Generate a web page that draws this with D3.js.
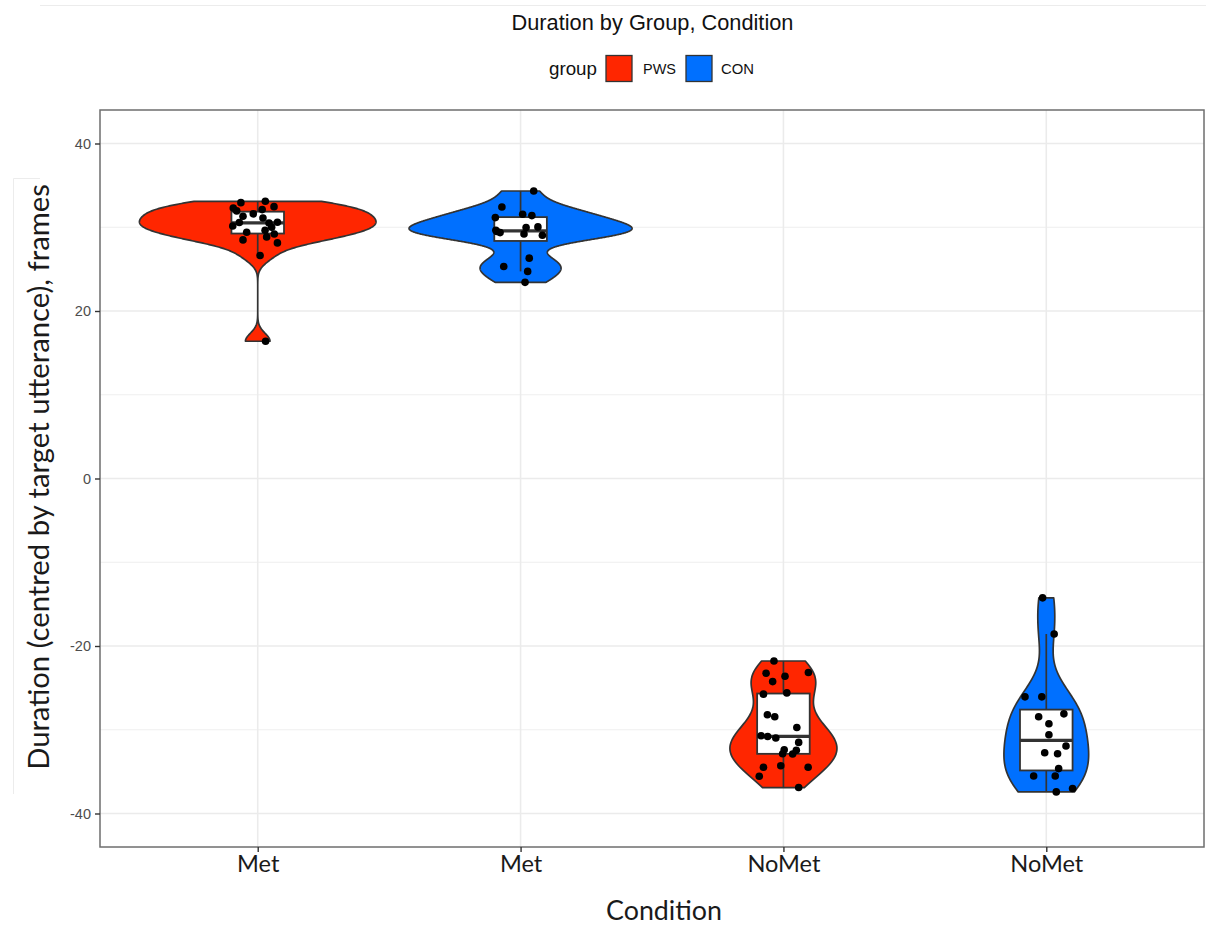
<!DOCTYPE html>
<html>
<head>
<meta charset="utf-8">
<script src="https://cdn.jsdelivr.net/npm/d3@7"></script>
<style>
  body { margin: 0; background: #fff; }
  svg { display: block; }
</style>
</head>
<body>
<svg id="chart" width="1206" height="925"></svg>
<script>
// ---- data -------------------------------------------------------------
const groupNames = ["PWS", "CON"];
const groupColors = ["#FF2600", "#0070FF"];
const conditionLabels = ["Met", "Met", "NoMet", "NoMet"];
const cellGroups = ["PWS", "CON", "PWS", "CON"];
const yTickValues = [-40, -20, 0, 20, 40];
const yMinorValues = [-30, -10, 10, 30];

// Duration (frames, centred by target utterance) per participant
const pwsMet = [32.94, 33.10, 32.46, 32.30, 31.95, 32.11, 31.60, 31.31, 31.11, 30.56, 30.15,
                30.60, 30.50, 30.00, 29.64, 29.40, 29.20, 28.85, 28.49, 28.13, 26.63, 16.39];
const conMet = [34.33, 32.42, 31.55, 31.39, 31.15, 29.96, 30.04, 29.64, 29.36, 29.05, 29.50,
                29.20, 26.31, 25.32, 24.73, 23.42];
const pwsNoMet = [-21.79, -23.25, -23.17, -23.61, -24.25, -25.75, -25.60, -28.21, -28.45, -29.73,
                  -30.71, -30.80, -30.99, -31.51, -32.38, -32.86, -32.46, -32.89, -34.29, -34.48,
                  -34.48, -35.56, -36.90];
const conNoMet = [-14.25, -18.57, -26.07, -26.07, -28.10, -28.45, -29.29, -30.60, -31.94, -32.74,
                  -32.86, -34.64, -35.52, -35.52, -37.02, -37.42];

// horizontal jitter of each dot, in units of the category spacing
const pwsMetJitter = [-0.064, 0.029, 0.062, -0.093, -0.080, 0.017, -0.017, -0.056, 0.020, -0.070, -0.095,
                      0.075, 0.043, 0.053, 0.028, -0.042, 0.063, 0.034, -0.056, 0.075, 0.009, 0.030];
const conMetJitter = [0.050, -0.071, 0.008, 0.043, -0.096, 0.021, 0.066, -0.094, -0.078, 0.083, -0.090,
                      0.013, 0.033, -0.064, 0.027, 0.017];
const pwsNoMetJitter = [-0.036, -0.066, 0.095, 0.006, -0.041, -0.076, 0.013, -0.061, -0.033, 0.051,
                        -0.085, -0.060, -0.029, 0.058, 0.003, -0.003, 0.049, 0.035, -0.010, -0.076,
                        0.094, -0.092, 0.058];
const conNoMetJitter = [-0.014, 0.030, -0.081, -0.017, 0.067, -0.029, 0.010, 0.010, 0.075, -0.006,
                        0.043, 0.047, -0.048, 0.034, 0.100, 0.038];

const cellValues = [pwsMet, conMet, pwsNoMet, conNoMet];
const cellJitter = [pwsMetJitter, conMetJitter, pwsNoMetJitter, conNoMetJitter];

// ---- layout -----------------------------------------------------------
const svg = d3.select("#chart");
const panel = { left: 100, top: 110, right: 1204, bottom: 847 };
const cellKeys = cellGroups.map((g, i) => g + "." + conditionLabels[i]);

const x = d3.scalePoint().domain(cellKeys).range([panel.left, panel.right]).padding(0.6);
const y = d3.scaleLinear().domain([-44, 44]).range([panel.bottom, panel.top]);
const color = d3.scaleOrdinal().domain(groupNames).range(groupColors);
const step = x.step();

// ---- statistics -------------------------------------------------------
function bwNrd0(v) {
  const sd = d3.deviation(v);
  const iqr = d3.quantile(v, 0.75) - d3.quantile(v, 0.25);
  let lo = Math.min(sd, iqr / 1.34);
  if (!(lo > 0)) lo = sd || 1;
  return 0.9 * lo * Math.pow(v.length, -0.2);
}
function kde(v, n = 512) {
  const bw = bwNrd0(v);
  const [lo, hi] = d3.extent(v);
  const k = 1 / (v.length * bw * Math.sqrt(2 * Math.PI));
  return d3.range(n).map(i => {
    const t = lo + (hi - lo) * i / (n - 1);
    let s = 0;
    for (const xi of v) { const u = (t - xi) / bw; s += Math.exp(-0.5 * u * u); }
    return { v: t, d: s * k };
  });
}
function boxStats(v) {
  const q1 = d3.quantile(v, 0.25), med = d3.quantile(v, 0.5), q3 = d3.quantile(v, 0.75);
  const iqr = q3 - q1;
  const lowW = d3.min(v.filter(d => d >= q1 - 1.5 * iqr));
  const highW = d3.max(v.filter(d => d <= q3 + 1.5 * iqr));
  return { q1, med, q3, lowW, highW };
}

const densities = cellValues.map(v => kde(v));
const maxDensity = d3.max(densities, ds => d3.max(ds, d => d.d));
const halfWidth = d3.scaleLinear().domain([0, maxDensity]).range([0, 0.45 * step]);

// ---- page rules -------------------------------------------------------
svg.append("line").attr("x1", 40).attr("x2", 1206).attr("y1", 5.5).attr("y2", 5.5)
  .attr("stroke", "#ececec").attr("stroke-width", 1);
svg.append("path").attr("d", "M40,178.5H13.5V794").attr("fill", "none")
  .attr("stroke", "#ececec").attr("stroke-width", 1);

// ---- grid -------------------------------------------------------------
const grid = svg.append("g");
grid.selectAll("line.minor").data(yMinorValues).join("line")
  .attr("x1", panel.left).attr("x2", panel.right)
  .attr("y1", d => y(d)).attr("y2", d => y(d))
  .attr("stroke", "#ebebeb").attr("stroke-width", 0.8);
grid.selectAll("line.major").data(yTickValues).join("line")
  .attr("x1", panel.left).attr("x2", panel.right)
  .attr("y1", d => y(d)).attr("y2", d => y(d))
  .attr("stroke", "#ebebeb").attr("stroke-width", 1.6);
grid.selectAll("line.vert").data(cellKeys).join("line")
  .attr("x1", d => x(d)).attr("x2", d => x(d))
  .attr("y1", panel.top).attr("y2", panel.bottom)
  .attr("stroke", "#ebebeb").attr("stroke-width", 1.6);

// ---- violins ----------------------------------------------------------
const violins = svg.append("g");
cellKeys.forEach((key, i) => {
  const cx = x(key);
  const area = d3.area()
    .y(d => y(d.v))
    .x0(d => cx - halfWidth(d.d))
    .x1(d => cx + halfWidth(d.d));
  violins.append("path")
    .attr("d", area(densities[i]))
    .attr("fill", color(cellGroups[i]))
    .attr("stroke", "#333")
    .attr("stroke-width", 1.7)
    .attr("stroke-linejoin", "round");
});

// ---- boxplots ---------------------------------------------------------
const boxes = svg.append("g");
cellKeys.forEach((key, i) => {
  const cx = x(key);
  const s = boxStats(cellValues[i]);
  const bw = 0.2 * step;
  boxes.append("line").attr("x1", cx).attr("x2", cx)
    .attr("y1", y(s.q3)).attr("y2", y(s.highW))
    .attr("stroke", "#333").attr("stroke-width", 1.7);
  boxes.append("line").attr("x1", cx).attr("x2", cx)
    .attr("y1", y(s.q1)).attr("y2", y(s.lowW))
    .attr("stroke", "#333").attr("stroke-width", 1.7);
  boxes.append("rect")
    .attr("x", cx - bw / 2).attr("width", bw)
    .attr("y", y(s.q3)).attr("height", y(s.q1) - y(s.q3))
    .attr("fill", "#fff").attr("stroke", "#333").attr("stroke-width", 1.8);
  boxes.append("line").attr("x1", cx - bw / 2).attr("x2", cx + bw / 2)
    .attr("y1", y(s.med)).attr("y2", y(s.med))
    .attr("stroke", "#333").attr("stroke-width", 3.2);
});

// ---- jittered points --------------------------------------------------
const dots = svg.append("g");
cellKeys.forEach((key, i) => {
  const pts = cellValues[i].map((v, j) => ({ v, j: cellJitter[i][j] }));
  dots.selectAll(null).data(pts).join("circle")
    .attr("cx", d => x(key) + d.j * step)
    .attr("cy", d => y(d.v))
    .attr("r", 3.8)
    .attr("fill", "#000");
});

// ---- panel border -----------------------------------------------------
svg.append("rect")
  .attr("x", panel.left).attr("y", panel.top)
  .attr("width", panel.right - panel.left).attr("height", panel.bottom - panel.top)
  .attr("fill", "none").attr("stroke", "#6e6e6e").attr("stroke-width", 1.5);

// ---- axes -------------------------------------------------------------
const yAxis = svg.append("g")
  .attr("transform", `translate(${panel.left},0)`)
  .call(d3.axisLeft(y).tickValues(yTickValues).tickSize(5).tickPadding(4)
    .tickFormat(d => String(d)));
yAxis.select(".domain").remove();
yAxis.selectAll(".tick line").attr("stroke", "#333").attr("stroke-width", 1.4);
yAxis.selectAll(".tick text")
  .attr("fill", "#4d4d4d")
  .style("font-family", "'Liberation Sans', Arial, sans-serif")
  .style("font-size", "14.5px");

const xAxis = svg.append("g")
  .attr("transform", `translate(0,${panel.bottom})`)
  .call(d3.axisBottom(x).tickSize(5).tickPadding(4).tickFormat((d, i) => conditionLabels[i]));
xAxis.select(".domain").remove();
xAxis.selectAll(".tick line").attr("stroke", "#333").attr("stroke-width", 1.4);
xAxis.selectAll(".tick text").attr("fill", "#1a1a1a").attr("dy", null).attr("y", 25)
  .style("font-family", "Lato, 'Open Sans', sans-serif");

// size a text element so its natural width equals the wanted width
function fitWidth(sel, width) {
  sel.style("font-size", "100px");
  const w = sel.node().getComputedTextLength();
  sel.style("font-size", (100 * width / w) + "px");
}

// x tick labels share one size, set from the widest label
{
  const probe = xAxis.selectAll(".tick text").filter((d, i) => i === 2);
  fitWidth(probe, 73);
  const fs = probe.style("font-size");
  xAxis.selectAll(".tick text").style("font-size", fs);
}

// axis titles
const xTitle = svg.append("text")
  .attr("x", (panel.left + panel.right) / 2 + 12).attr("y", 920)
  .attr("text-anchor", "middle").attr("fill", "#1a1a1a")
  .style("font-family", "Lato, 'Open Sans', sans-serif")
  .text("Condition");
fitWidth(xTitle, 116);

const yTitle = svg.append("text")
  .attr("transform", "translate(49,477) rotate(-90)")
  .attr("text-anchor", "middle").attr("fill", "#1a1a1a")
  .style("font-family", "Lato, 'Open Sans', sans-serif")
  .text("Duration (centred by target utterance), frames");
fitWidth(yTitle, 586);

// ---- title ------------------------------------------------------------
const title = svg.append("text")
  .attr("x", 652.5).attr("y", 30)
  .attr("text-anchor", "middle").attr("fill", "#111")
  .style("font-family", "'Liberation Sans', Arial, sans-serif")
  .text("Duration by Group, Condition");
fitWidth(title, 282);

// ---- legend -----------------------------------------------------------
const legend = svg.append("g").attr("transform", "translate(549,0)");
const legTitle = legend.append("text").attr("x", 0).attr("y", 74.5).attr("fill", "#111")
  .style("font-family", "'Liberation Sans', Arial, sans-serif").text("group");
fitWidth(legTitle, 48);
const keyX = [57, 137];
const labelX = [94, 172];
groupNames.forEach((g, i) => {
  legend.append("rect")
    .attr("x", keyX[i]).attr("y", 55.5).attr("width", 26).attr("height", 26)
    .attr("fill", color(g)).attr("stroke", "#333").attr("stroke-width", 1.3);
  const t = legend.append("text").attr("x", labelX[i]).attr("y", 73.5).attr("fill", "#111")
    .style("font-family", "'Liberation Sans', Arial, sans-serif").text(g);
  fitWidth(t, 33);
});
</script>
</body>
</html>
